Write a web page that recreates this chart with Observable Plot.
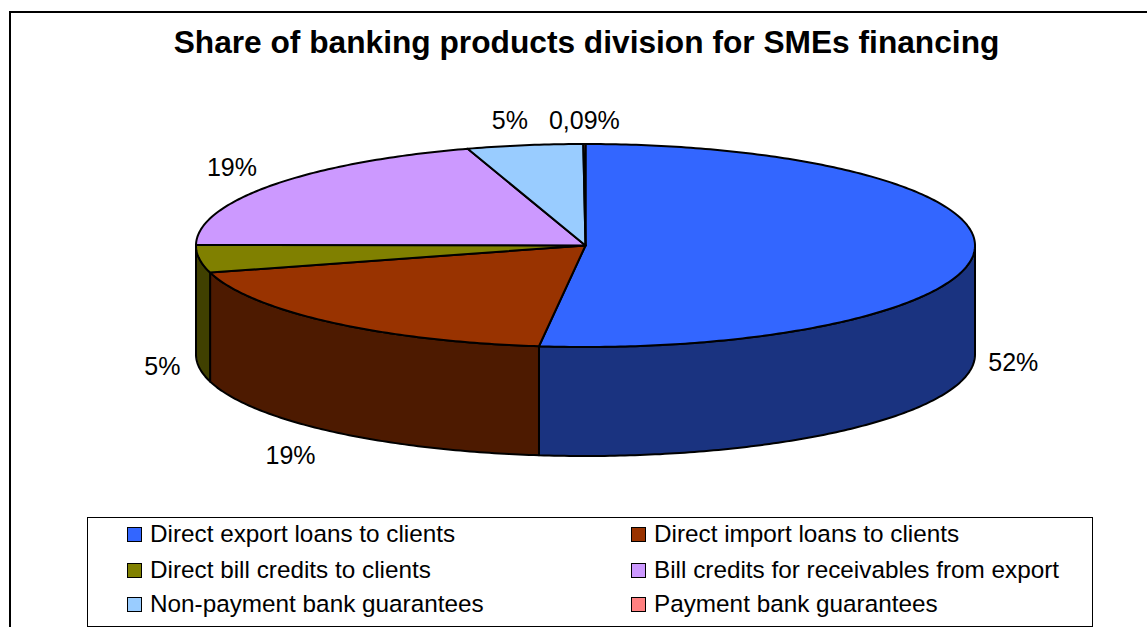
<!DOCTYPE html>
<html>
<head>
<meta charset="utf-8">
<script src="https://cdn.jsdelivr.net/npm/d3@7"></script>
<script src="https://cdn.jsdelivr.net/npm/@observablehq/plot@0.6"></script>
<style>
html,body{margin:0;padding:0;background:#fff;overflow:hidden;width:1147px;height:627px;font-family:"Liberation Sans",Arial,sans-serif;color:#000}
#frame{position:absolute;left:9px;top:11px;width:1138px;height:616px;border-left:2px solid #000;border-top:2px solid #000;box-sizing:border-box}
#title{position:absolute;left:0;top:21px;width:1173px;text-align:center;font-weight:bold;font-size:31.7px;line-height:42px;white-space:nowrap}
#chart{position:absolute;left:0;top:70px}
#chart svg{display:block;background:transparent}
#legend{position:absolute;left:87px;top:517px;width:1006px;height:110px;border:1.5px solid #000;box-sizing:border-box;background:#fff}
.item{position:absolute;display:flex;align-items:center;font-size:24.3px;line-height:28px;white-space:nowrap}
.swatch{width:15px;height:15px;border:1.5px solid #000;box-sizing:border-box;margin-right:8px;flex:none}
</style>
</head>
<body>
<div id="frame"></div>
<div id="title"></div>
<div id="chart"></div>
<div id="legend"></div>
<script>
const titleText = "Share of banking products division for SMEs financing";
const categories = ["Direct export loans to clients","Direct import loans to clients","Direct bill credits to clients","Bill credits for receivables from export","Non-payment bank guarantees","Payment bank guarantees"];
const shares = [51.9, 18.8, 4.4, 20.0, 4.8, 0.09];
// Labels as printed in the chart
const labels = ["52%","19%","5%","19%","5%","0,09%"];
const topColors = ["#3366FF","#993300","#808000","#CC99FF","#99CCFF","#FF8080"];
const sideColors = ["#1A3380","#4D1A00","#404000","#664D80","#4D6680","#804040"];

// Layout of the pie (pixels inside the SVG) and label offsets from each slice's rim midpoint
const svgTop = 70, cx = 585, cy = 245 - svgTop, rx = 389.5, ry = 101.5, depth = 109 / ry;
const labelDx = [39, -41, -37, -40, -15, 0];
const labelDy = [111, 134, 108, -17, -24, -23.5];

const total = d3.sum(shares);
const cum = d3.cumsum(shares).map(v => v / total * 2 * Math.PI);
const slices = shares.map((s, i) => ({i, a0: i ? cum[i - 1] : 0, a1: cum[i]}));
const step = Math.PI / 240;
function arc(a0, a1) {
  const n = Math.max(1, Math.ceil((a1 - a0) / step));
  return d3.range(n + 1).map(k => a0 + (a1 - a0) * k / n);
}
const topPts = [], sidePts = [];
for (const s of slices) {
  const ring = arc(s.a0, s.a1).map(a => ({x: Math.sin(a), y: Math.cos(a)}));
  [{x: 0, y: 0}, ...ring, {x: 0, y: 0}].forEach(p => topPts.push({...p, id: s.i, color: topColors[s.i]}));
  const f0 = Math.max(s.a0, Math.PI / 2), f1 = Math.min(s.a1, 3 * Math.PI / 2);
  if (f1 > f0) {
    const front = arc(f0, f1).map(a => ({x: Math.sin(a), y: Math.cos(a)}));
    const loop = [...front, ...front.slice().reverse().map(p => ({x: p.x, y: p.y - depth})), front[0]];
    loop.forEach(p => sidePts.push({...p, id: s.i, color: sideColors[s.i]}));
  }
}
const labelData = slices.map(s => {
  const m = (s.a0 + s.a1) / 2;
  return {x: Math.sin(m), y: Math.cos(m), label: labels[s.i], dx: labelDx[s.i], dy: labelDy[s.i]};
});

const plot = Plot.plot({
  width: 1147, height: 440,
  margin: 0,
  x: {domain: [-1, 1], range: [cx - rx, cx + rx], axis: null},
  y: {domain: [1, -1], range: [cy - ry, cy + ry], axis: null},
  color: {type: "identity"},
  style: {background: "transparent", overflow: "visible"},
  marks: [
    Plot.line(sidePts, {x: "x", y: "y", z: "id", fill: "color", stroke: "#000", strokeWidth: 2, curve: "linear"}),
    Plot.line(topPts, {x: "x", y: "y", z: "id", fill: "color", stroke: "#000", strokeWidth: 2, curve: "linear"}),
    ...labelData.map(d => Plot.text([d], {x: "x", y: "y", text: "label", dx: d.dx, dy: d.dy, fontSize: 25, fontFamily: "Liberation Sans", fill: "#000", textAnchor: "middle", lineAnchor: "middle"}))
  ]
});
document.getElementById("chart").appendChild(plot);
document.getElementById("title").textContent = titleText;

const legendPos = [[39, 2],[543, 2],[39, 38],[543, 38],[39, 72],[543, 72]];
const legend = document.getElementById("legend");
categories.forEach((c, i) => {
  const el = document.createElement("div");
  el.className = "item";
  el.style.left = legendPos[i][0] + "px";
  el.style.top = legendPos[i][1] + "px";
  const sw = document.createElement("span");
  sw.className = "swatch";
  sw.style.background = topColors[i];
  const t = document.createElement("span");
  t.textContent = c;
  el.append(sw, t);
  legend.appendChild(el);
});
</script>
</body>
</html>
